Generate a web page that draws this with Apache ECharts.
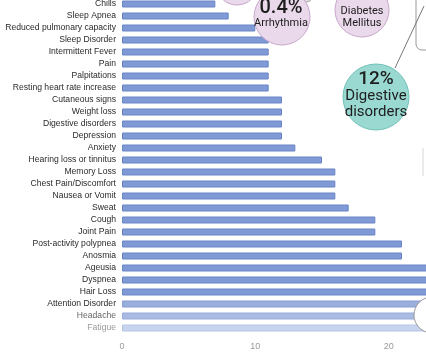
<!DOCTYPE html>
<html>
<head>
<meta charset="utf-8">
<script src="https://cdn.jsdelivr.net/npm/echarts@6/dist/echarts.min.js"></script>
<style>html,body{margin:0;padding:0;background:#fff;}#c{width:426px;height:357px;}</style>
</head>
<body>
<div id="c"></div>
<script>
const categories = ["Chills","Sleep Apnea","Reduced pulmonary capacity","Sleep Disorder","Intermittent Fever","Pain","Palpitations","Resting heart rate increase","Cutaneous signs","Weight loss","Digestive disorders","Depression","Anxiety","Hearing loss or tinnitus","Memory Loss","Chest Pain/Discomfort","Nausea or Vomit","Sweat","Cough","Joint Pain","Post-activity polypnea","Anosmia","Ageusia","Dyspnea","Hair Loss","Attention Disorder","Headache","Fatigue"];
const values = [7,8,10,11,11,11,11,11,12,12,12,12,13,15,16,16,16,17,19,19,21,21,24,24,25,26,27,30];
const xTicks = [0,10,20,30];
const bubbleLabels = [
  {pct:"0.4%", name:["Arrhythmia"]},
  {pct:"1%", name:["Diabetes","Mellitus"]},
  {pct:"12%", name:["Digestive","disorders"]}
];

const barColors = categories.map((c,i)=>{
  if (c==="Fatigue") return {fill:"#c8d4ee", border:"#b6c4e6"};
  if (c==="Headache") return {fill:"#a9bae3", border:"#98abdb"};
  if (c==="Attention Disorder") return {fill:"#9aaedc", border:"#889dd2"};
  return {fill:"#809ad6", border:"#6b85c6"};
});
const labelColor = (v, i) => {
  if (v==="Fatigue") return "#9a9a9a";
  if (v==="Headache") return "#666";
  return "#2a2a2a";
};

const chart = echarts.init(document.getElementById('c'));
chart.setOption({
  animation:false,
  backgroundColor:'#fff',
  grid:{left:122, top:-2, height:336, width:400, containLabel:false, outerBoundsMode:'none'},
  xAxis:{type:'value', min:xTicks[0], max:xTicks[xTicks.length-1], interval:10,
    axisLine:{show:false}, axisTick:{show:false}, splitLine:{show:false},
    axisLabel:{color:'#999', fontSize:9, fontFamily:'Liberation Sans', margin:8}},
  yAxis:{type:'category', data:categories, inverse:true,
    axisLine:{show:false}, axisTick:{show:false},
    axisLabel:{fontSize:8.6, fontFamily:'Liberation Sans', margin:6, color:labelColor}},
  series:[{type:'bar', barWidth:7,
    data: values.map((v,i)=>({value:v, itemStyle:{color:barColors[i].fill, borderColor:barColors[i].border, borderWidth:1}}))
  }],
  graphic:[
    {type:'circle', shape:{cx:237,cy:-16,r:21}, style:{fill:'#ead8eb', stroke:'#c9a8cd', lineWidth:1}, z:10},
    {type:'circle', shape:{cx:307,cy:-2,r:4}, style:{fill:'#ddd', stroke:'#aaa', lineWidth:1}, z:10},
    {type:'circle', shape:{cx:282,cy:17,r:28}, style:{fill:'#ead8eb', stroke:'#c9a8cd', lineWidth:1}, z:11},
    {type:'text', style:{text:bubbleLabels[0].pct, x:281, y:8, align:'center', verticalAlign:'middle', font:'500 20px Roboto', fill:'#1e1e1e'}, z:12},
    {type:'text', style:{text:bubbleLabels[0].name[0], x:281, y:23, align:'center', verticalAlign:'middle', font:'11px Roboto', fill:'#1e1e1e'}, z:12},
    {type:'circle', shape:{cx:362,cy:10,r:27}, style:{fill:'#ead8eb', stroke:'#c9a8cd', lineWidth:1}, z:11},
    {type:'text', style:{text:bubbleLabels[1].pct, x:362, y:-5, align:'center', verticalAlign:'middle', font:'500 17px Roboto', fill:'#1e1e1e'}, z:12},
    {type:'text', style:{text:bubbleLabels[1].name[0], x:362, y:11, align:'center', verticalAlign:'middle', font:'11px Roboto', fill:'#1e1e1e'}, z:12},
    {type:'text', style:{text:bubbleLabels[1].name[1], x:362, y:23, align:'center', verticalAlign:'middle', font:'11px Roboto', fill:'#1e1e1e'}, z:12},
    {type:'rect', shape:{x:416,y:-20,width:40,height:70,r:6}, style:{fill:'#fff', stroke:'#999', lineWidth:1}, z:10},
    {type:'line', shape:{x1:395,y1:68,x2:424,y2:6}, style:{stroke:'#777', lineWidth:1}, z:10},
    {type:'line', shape:{x1:423,y1:148,x2:423,y2:176}, style:{stroke:'#e4e4e4', lineWidth:1.5}, z:10},
    {type:'circle', shape:{cx:376,cy:97,r:33}, style:{fill:'#9ad9d1', stroke:'#72c1b8', lineWidth:1}, z:11},
    {type:'text', style:{text:bubbleLabels[2].pct, x:376, y:79, align:'center', verticalAlign:'middle', font:'500 19px Roboto', fill:'#1e1e1e'}, z:12},
    {type:'text', style:{text:bubbleLabels[2].name[0], x:376, y:96, align:'center', verticalAlign:'middle', font:'15px Roboto', fill:'#1e1e1e'}, z:12},
    {type:'text', style:{text:bubbleLabels[2].name[1], x:376, y:112, align:'center', verticalAlign:'middle', font:'15px Roboto', fill:'#1e1e1e'}, z:12},
    {type:'circle', shape:{cx:432,cy:315,r:18}, style:{fill:'#fff', stroke:'#999', lineWidth:1}, z:10}
  ]
});
</script>
</body>
</html>
